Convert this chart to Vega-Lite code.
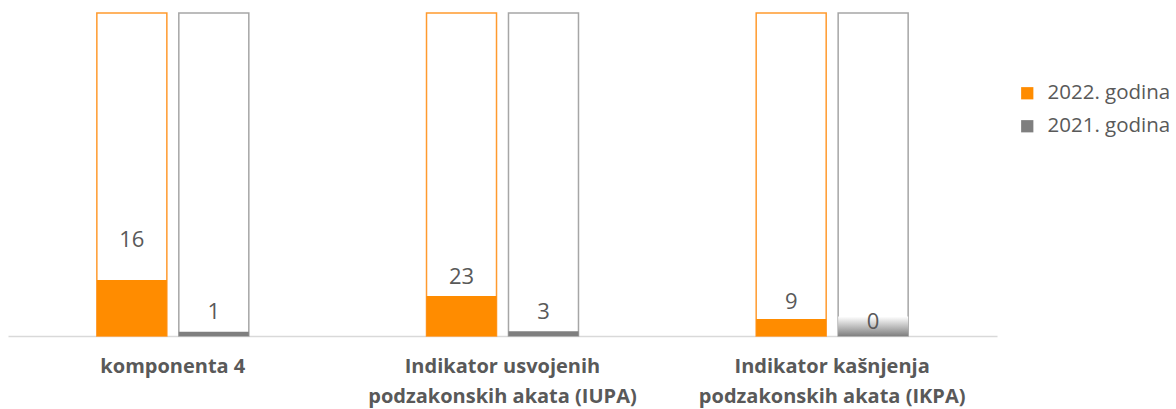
{
  "$schema": "https://vega.github.io/schema/vega-lite/v6.json",
  "width": 989,
  "height": 323,
  "autosize": {"type": "none"},
  "padding": {"left": 8, "top": 13, "right": 179, "bottom": 73},
  "background": "white",
  "config": {
    "view": {"stroke": null},
    "font": "Open Sans"
  },
  "data": {
    "values": [
      {"grupa": "komponenta 4", "godina": "2022. godina", "vrijednost": 16, "udio": 17.3, "oznaka": 29.7},
      {"grupa": "komponenta 4", "godina": "2021. godina", "vrijednost": 1, "udio": 1.3, "oznaka": 7.4},
      {"grupa": "Indikator usvojenih podzakonskih akata (IUPA)", "godina": "2022. godina", "vrijednost": 23, "udio": 12.4, "oznaka": 18.3},
      {"grupa": "Indikator usvojenih podzakonskih akata (IUPA)", "godina": "2021. godina", "vrijednost": 3, "udio": 1.5, "oznaka": 7.4},
      {"grupa": "Indikator kašnjenja podzakonskih akata (IKPA)", "godina": "2022. godina", "vrijednost": 9, "udio": 5.3, "oznaka": 10.5},
      {"grupa": "Indikator kašnjenja podzakonskih akata (IKPA)", "godina": "2021. godina", "vrijednost": 0, "udio": 6.0, "oznaka": 4.3}
    ]
  },
  "encoding": {
    "x": {
      "field": "grupa",
      "type": "nominal",
      "sort": null,
      "scale": {"paddingInner": 0.539, "paddingOuter": 0.2695},
      "axis": {
        "title": null,
        "domainColor": "#D9D9D9",
        "domainWidth": 1.5,
        "ticks": false,
        "labelAngle": 0,
        "labelFont": "Open Sans",
        "labelFontWeight": "bold",
        "labelFontSize": 20,
        "labelColor": "#595959",
        "labelPadding": 20,
        "labelLineHeight": 30,
        "labelLimit": 400,
        "labelExpr": "datum.value == 'Indikator usvojenih podzakonskih akata (IUPA)' ? ['Indikator usvojenih', 'podzakonskih akata (IUPA)'] : datum.value == 'Indikator kašnjenja podzakonskih akata (IKPA)' ? ['Indikator kašnjenja', 'podzakonskih akata (IKPA)'] : datum.value"
      }
    },
    "xOffset": {
      "field": "godina",
      "type": "nominal",
      "sort": ["2022. godina", "2021. godina"],
      "scale": {"paddingInner": 0.146, "paddingOuter": 0}
    }
  },
  "resolve": {"legend": {"fill": "independent", "stroke": "independent"}},
  "layer": [
    {
      "mark": {"type": "bar", "fill": "white", "strokeWidth": 1.5},
      "encoding": {
        "y": {"datum": 100, "type": "quantitative", "scale": {"domain": [0, 100]}, "axis": null},
        "stroke": {
          "field": "godina",
          "type": "nominal",
          "scale": {"domain": ["2022. godina", "2021. godina"], "range": ["#FF9A2E", "#A6A6A6"]},
          "legend": null
        }
      }
    },
    {
      "transform": [{"filter": "datum.vrijednost > 0"}],
      "mark": {"type": "bar"},
      "encoding": {
        "y": {"field": "udio", "type": "quantitative", "scale": {"domain": [0, 100]}, "axis": null},
        "fill": {
          "field": "godina",
          "type": "nominal",
          "sort": ["2022. godina", "2021. godina"],
          "scale": {"domain": ["2022. godina", "2021. godina"], "range": ["#FF8C00", "#7F7F7F"]},
          "legend": {
            "title": null,
            "orient": "none",
            "legendX": 1009,
            "legendY": 70,
            "symbolType": "square",
            "symbolSize": 150,
            "symbolStrokeWidth": 0,
            "labelFont": "Open Sans",
            "labelFontSize": 20.5,
            "labelColor": "#595959",
            "labelOffset": 10,
            "rowPadding": 12,
            "padding": 0
          }
        }
      }
    },
    {
      "transform": [{"filter": "datum.vrijednost == 0"}],
      "mark": {
        "type": "bar",
        "fill": {
          "gradient": "linear",
          "x1": 0, "y1": 0, "x2": 0, "y2": 1,
          "stops": [
            {"offset": 0, "color": "#FFFFFF"},
            {"offset": 1, "color": "#808080"}
          ]
        }
      },
      "encoding": {
        "y": {"field": "udio", "type": "quantitative", "scale": {"domain": [0, 100]}, "axis": null}
      }
    },
    {
      "mark": {"type": "text", "fontSize": 22, "color": "#595959", "baseline": "middle", "font": "Open Sans"},
      "encoding": {
        "y": {"field": "oznaka", "type": "quantitative", "scale": {"domain": [0, 100]}, "axis": null},
        "text": {"field": "vrijednost", "type": "quantitative"}
      }
    }
  ]
}
